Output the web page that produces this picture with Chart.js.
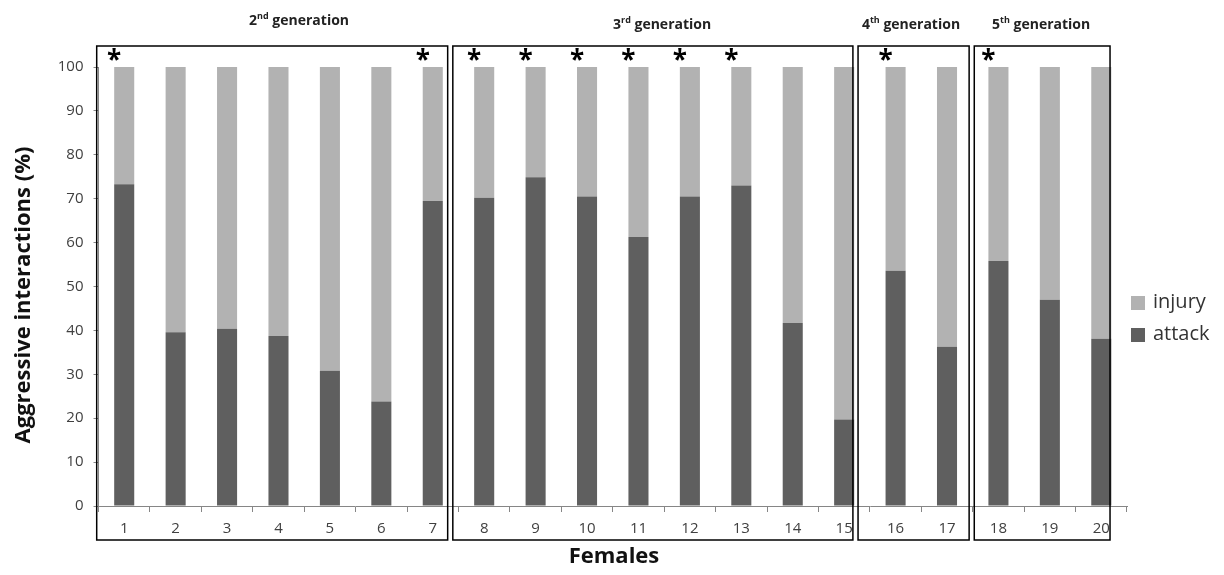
<!DOCTYPE html>
<html>
<head>
<meta charset="utf-8">
<script src="https://cdn.jsdelivr.net/npm/chart.js@4"></script>
<style>
  html, body { margin: 0; padding: 0; background: #fff; }
  #wrap { width: 1224px; height: 575px; position: relative; }
</style>
</head>
<body>
<div id="wrap"><canvas id="chart"></canvas></div>
<script>
Chart.defaults.animation = false;

// ---- data ----
const females = ["1", "2", "3", "4", "5", "6", "7", "8", "9", "10",
                 "11", "12", "13", "14", "15", "16", "17", "18", "19", "20"];
const attack = [73.3, 39.6, 40.4, 38.7, 30.8, 23.8, 69.5, 70.2, 74.9, 70.5,
                61.3, 70.5, 73.0, 41.7, 19.7, 53.6, 36.3, 55.8, 47.0, 38.1];
const injury = [26.7, 60.4, 59.6, 61.3, 69.2, 76.2, 30.5, 29.8, 25.1, 29.5,
                38.7, 29.5, 27.0, 58.3, 80.3, 46.4, 63.7, 44.2, 53.0, 61.9];
const starred = ["1", "7", "8", "9", "10", "11", "12", "13", "16", "18"];
const generations = ["2", "3", "4", "5"];
const genSuffix = ["nd", "rd", "th", "th"];
const yTicks = [0, 10, 20, 30, 40, 50, 60, 70, 80, 90, 100];

const ATTACK_COLOR = "#5f5f5f";
const INJURY_COLOR = "#b2b2b2";
const AXIS_COLOR = "#868686";

// box extents and title positions in category units (hand placed in the original)
const boxes = [[-0.535, 6.29], [6.39, 14.17], [14.27, 16.43], [16.53, 19.17]];
const genCenters = [3.4, 10.46, 15.3, 17.83];
const genY = [20, 24, 24, 24];

const decorations = {
  id: "decorations",
  afterDatasetsDraw(chart) {
    const ctx = chart.ctx;
    const x = chart.scales.x;
    const y = chart.scales.y;
    ctx.save();

    // group boxes
    ctx.strokeStyle = "#000";
    ctx.lineWidth = 1.5;
    boxes.forEach(b => {
      const l = x.getPixelForValue(b[0]);
      const r = x.getPixelForValue(b[1]);
      ctx.strokeRect(l, 46, r - l, 540 - 46);
    });

    // asterisks above the left edge of the bar
    const meta = chart.getDatasetMeta(1);
    ctx.fillStyle = "#000";
    ctx.font = "bold 26px 'Open Sans'";
    ctx.textAlign = "center";
    ctx.textBaseline = "alphabetic";
    starred.forEach(s => {
      const i = females.indexOf(s);
      const bar = meta.data[i];
      const left = bar.x - bar.width / 2;
      ctx.fillText("*", left, y.getPixelForValue(100) + 2);
    });

    // generation titles
    generations.forEach((g, i) => {
      const cx = x.getPixelForValue(genCenters[i]);
      const main1 = g;
      const sup = genSuffix[i];
      const main2 = " generation";
      ctx.font = "bold 14px 'Open Sans'";
      const w1 = ctx.measureText(main1).width;
      const w3 = ctx.measureText(main2).width;
      ctx.font = "bold 9px 'Open Sans'";
      const w2 = ctx.measureText(sup).width;
      let sx = cx - (w1 + w2 + w3) / 2;
      ctx.textAlign = "left";
      ctx.textBaseline = "alphabetic";
      ctx.fillStyle = "#222";
      ctx.font = "bold 14px 'Open Sans'";
      ctx.fillText(main1, sx, genY[i] + 5);
      ctx.font = "bold 9px 'Open Sans'";
      ctx.fillText(sup, sx + w1, genY[i] - 1);
      ctx.font = "bold 14px 'Open Sans'";
      ctx.fillText(main2, sx + w1 + w2, genY[i] + 5);
    });

    // axis titles
    ctx.fillStyle = "#111";
    ctx.font = "bold 22px 'Open Sans'";
    ctx.textAlign = "center";
    ctx.textBaseline = "middle";
    ctx.fillText("Females", 614, 557);
    ctx.save();
    ctx.translate(24, 295);
    ctx.rotate(-Math.PI / 2);
    ctx.fillText("Aggressive interactions (%)", 0, 0);
    ctx.restore();

    // legend
    const items = [[chart.data.datasets[1].label, INJURY_COLOR, 303],
                   [chart.data.datasets[0].label, ATTACK_COLOR, 335]];
    ctx.font = "20px 'Open Sans'";
    ctx.textAlign = "left";
    ctx.textBaseline = "middle";
    items.forEach(it => {
      ctx.fillStyle = it[1];
      ctx.fillRect(1131, it[2] - 7, 14, 14);
      ctx.fillStyle = "#333";
      ctx.fillText(it[0], 1153, it[2] - 1);
    });

    ctx.restore();
  }
};

new Chart(document.getElementById("chart"), {
  type: "bar",
  data: {
    labels: females,
    datasets: [
      { label: "attack", data: attack, backgroundColor: ATTACK_COLOR,
        barPercentage: 0.39, categoryPercentage: 1.0 },
      { label: "injury", data: injury, backgroundColor: INJURY_COLOR,
        barPercentage: 0.39, categoryPercentage: 1.0 }
    ]
  },
  options: {
    responsive: true,
    maintainAspectRatio: false,
    animation: false,
    layout: { padding: { left: 0, right: 97, top: 67, bottom: 0 } },
    plugins: { legend: { display: false }, tooltip: { enabled: false } },
    scales: {
      x: {
        stacked: true,
        afterFit(scale) { scale.height = 69; },
        grid: { drawOnChartArea: false, drawTicks: true, tickLength: 6, color: AXIS_COLOR, offset: true },
        border: { color: AXIS_COLOR },
        ticks: { color: "#404040", font: { family: "'Open Sans'", size: 15 }, padding: 8, maxRotation: 0, autoSkip: false }
      },
      y: {
        stacked: true,
        min: 0,
        max: 100,
        afterFit(scale) { scale.width = 98.5; },
        afterBuildTicks(scale) { scale.ticks = yTicks.map(v => ({ value: v })); },
        grid: { drawOnChartArea: false, drawTicks: true, tickLength: 5, color: AXIS_COLOR },
        border: { color: AXIS_COLOR },
        ticks: { color: "#404040", font: { family: "'Open Sans'", size: 15 }, padding: 10 }
      }
    }
  },
  plugins: [decorations]
});
</script>
</body>
</html>
